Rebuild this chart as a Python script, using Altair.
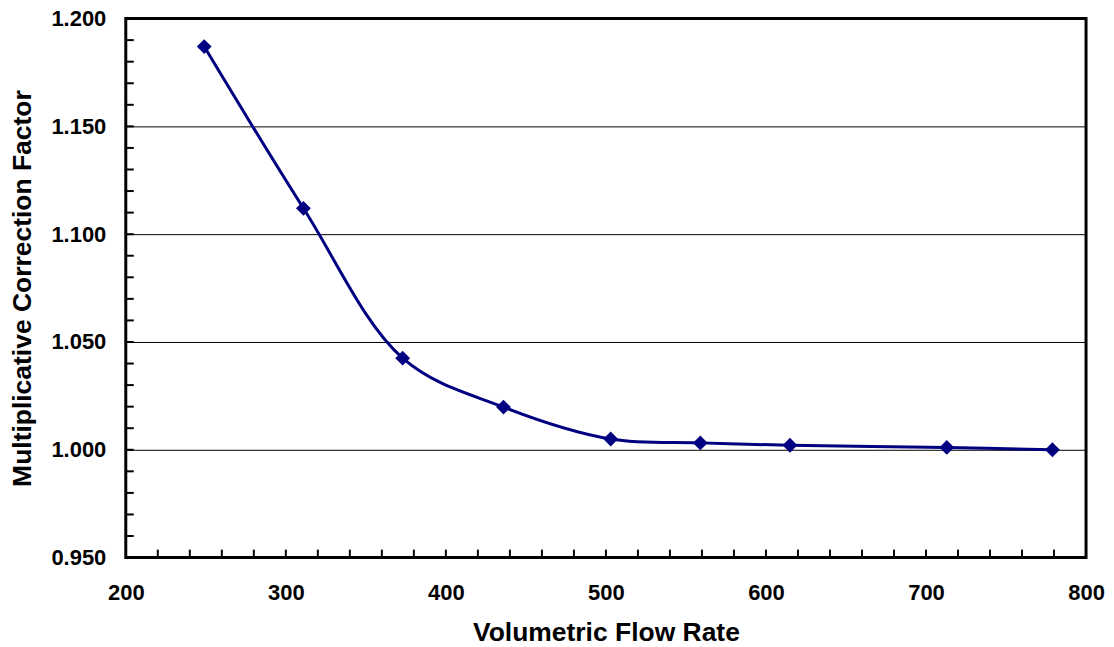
import altair as alt
import pandas as pd

# Data
flow_rate = [249, 311, 373, 436, 503, 559, 615, 713, 779]
correction = [1.187, 1.112, 1.0425, 1.0198, 1.0050, 1.0032, 1.0021, 1.0011, 1.0000]

x_tick_labels = [200, 300, 400, 500, 600, 700, 800]
y_tick_labels = [0.95, 1.00, 1.05, 1.10, 1.15, 1.20]
x_minor_ticks = list(range(220, 800, 20))
y_minor_ticks = [round(0.95 + 0.01 * i, 2) for i in range(1, 25)]

df = pd.DataFrame({"flow": flow_rate, "factor": correction})
xt = pd.DataFrame({"v": x_minor_ticks})
yt = pd.DataFrame({"v": y_minor_ticks})

FONT = "Liberation Sans"
NAVY = "#000080"

xscale = alt.Scale(domain=[200, 800], nice=False, zero=False)
yscale = alt.Scale(domain=[0.95, 1.2], nice=False, zero=False)

x_enc = alt.X(
    "flow:Q",
    scale=xscale,
    title="Volumetric Flow Rate",
    axis=alt.Axis(
        values=x_tick_labels,
        format="d",
        ticks=False,
        tickSize=0,
        domain=False,
        grid=False,
        labelFlush=False,
        labelFont=FONT,
        labelFontSize=22,
        labelFontWeight="bold",
        labelColor="black",
        labelPadding=25,
        titleFont=FONT,
        titleFontSize=26.5,
        titleFontWeight="bold",
        titleColor="black",
        titlePadding=16,
    ),
)
y_enc = alt.Y(
    "factor:Q",
    scale=yscale,
    title="Multiplicative Correction Factor",
    axis=alt.Axis(
        values=y_tick_labels,
        format=".3f",
        ticks=False,
        tickSize=0,
        domain=False,
        grid=True,
        gridColor="black",
        gridWidth=1,
        gridOpacity=1,
        labelFlush=False,
        labelFont=FONT,
        labelFontSize=22,
        labelFontWeight="bold",
        labelColor="black",
        labelPadding=20,
        titleFont=FONT,
        titleFontSize=26.5,
        titleFontWeight="bold",
        titleColor="black",
        titlePadding=14,
    ),
)

line = alt.Chart(df).mark_line(
    color=NAVY, strokeWidth=3, interpolate="catmull-rom"
).encode(x=x_enc, y=y_enc)

points = alt.Chart(df).mark_point(
    shape="diamond", filled=True, color=NAVY, size=220, opacity=1
).encode(x=alt.X("flow:Q", scale=xscale), y=alt.Y("factor:Q", scale=yscale))

xticks = alt.Chart(xt).mark_rule(color="black", strokeWidth=2).encode(
    x=alt.X("v:Q", scale=xscale),
    y=alt.value(540),
    y2=alt.value(532),
)
yticks = alt.Chart(yt).mark_rule(color="black", strokeWidth=2).encode(
    y=alt.Y("v:Q", scale=yscale),
    x=alt.value(0),
    x2=alt.value(8),
)

chart = (
    alt.layer(xticks, yticks, line, points)
    .properties(
        width=962,
        height=540,
        autosize=alt.AutoSizeParams(type="none"),
        padding={"left": 118, "top": 10, "right": 20, "bottom": 88},
        background="white",
    )
    .configure_view(stroke="black", strokeWidth=3)
)

chart.save("out.html", embed_options={"renderer": "svg", "actions": False})
